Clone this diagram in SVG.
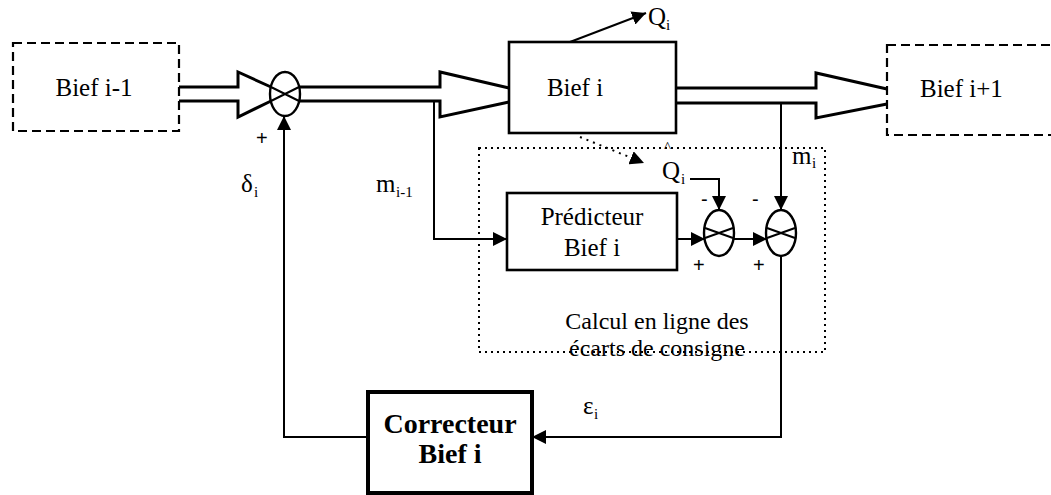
<svg xmlns="http://www.w3.org/2000/svg" width="1051" height="495" viewBox="0 0 1051 495">
<style>
.t{font-family:"Liberation Serif","Times New Roman",serif;font-size:25px;fill:#000}
.c{font-family:"Liberation Serif","Times New Roman",serif;font-size:24px;fill:#000}
.s{font-family:"Liberation Serif","Times New Roman",serif;font-size:15px;fill:#000}
.b{font-family:"Liberation Serif","Times New Roman",serif;font-size:28px;font-weight:bold;fill:#000}
.sg{font-family:"Liberation Sans",Arial,sans-serif;font-size:20px;fill:#000}
.dash{fill:#fff;stroke:#000;stroke-width:2.2;stroke-dasharray:9,5}
.box{fill:#fff;stroke:#000;stroke-width:2.6}
.sh{fill:none;stroke:#000;stroke-width:3;stroke-linejoin:miter}
.ln{fill:none;stroke:#000;stroke-width:2}
.sum{fill:#fff;stroke:#000;stroke-width:2.4}
</style>
<defs>
<marker id="ahL" viewBox="0 0 10 10" refX="10" refY="5" markerWidth="14" markerHeight="14" markerUnits="userSpaceOnUse" orient="auto">
<path d="M0,0 L10,5 L0,10 z" fill="#000"/>
</marker>
</defs>

<g id="bief-im1">
<rect class="dash" x="13" y="43" width="166" height="88"/>
<text class="t" x="94" y="96" text-anchor="middle">Bief i-1</text>
</g>

<g id="bief-i">
<rect class="box" x="509" y="42" width="167" height="91"/>
<text class="t" x="575" y="96" text-anchor="middle">Bief i</text>
</g>

<g id="bief-ip1">
<rect class="dash" x="887" y="45" width="180" height="90"/>
<text class="t" x="920" y="97">Bief i+1</text>
</g>

<g id="calcul">
<rect x="479" y="148" width="346" height="204" fill="none" stroke="#000" stroke-width="2" stroke-dasharray="2,4"/>
<text class="c" x="657" y="329" text-anchor="middle">Calcul en ligne des</text>
<text class="c" x="657" y="356" text-anchor="middle">écarts de consigne</text>
</g>

<g id="predicteur">
<rect class="box" x="507" y="193" width="170" height="77" stroke-width="3"/>
<text class="t" x="592" y="225" text-anchor="middle">Prédicteur</text>
<text class="t" x="592" y="256" text-anchor="middle">Bief i</text>
</g>

<g id="correcteur">
<rect x="368" y="392" width="164" height="101" fill="#fff" stroke="#000" stroke-width="4"/>
<text class="b" x="450" y="433" text-anchor="middle">Correcteur</text>
<text class="b" x="450" y="463" text-anchor="middle">Bief i</text>
</g>

<g id="sum1">
<ellipse class="sum" cx="285" cy="94" rx="15" ry="22"/>
<path class="ln" d="M271,87 L299,101 M271,101 L299,87"/>
</g>
<g id="sum2">
<ellipse class="sum" cx="719" cy="233" rx="15" ry="23"/>
<path class="ln" d="M705,228 L733,238 M705,238 L733,228"/>
</g>
<g id="sum3">
<ellipse class="sum" cx="781" cy="233" rx="15" ry="23"/>
<path class="ln" d="M767,228 L795,238 M767,238 L795,228"/>
</g>

<g id="connectors">
<path class="sh" d="M179,87 H238 V72 L271,87 M179,101 H238 V117 L271,101"/>
<path class="sh" d="M299,87 H440 V72 L509,88 M299,101 H440 V117 L509,102"/>
<path class="sh" d="M676,88 H816 V73 L887,89 M676,103 H816 V118 L887,104"/>
<line class="ln" x1="570" y1="42" x2="646" y2="13" marker-end="url(#ahL)"/>
<line x1="580" y1="137" x2="644" y2="163" stroke="#000" stroke-width="2" stroke-dasharray="2,5" marker-end="url(#ahL)"/>
<polyline class="ln" points="434,102 434,239 507,239" marker-end="url(#ahL)"/>
<line class="ln" x1="677" y1="239" x2="705" y2="239" marker-end="url(#ahL)"/>
<line class="ln" x1="734" y1="239" x2="767" y2="239" marker-end="url(#ahL)"/>
<polyline class="ln" points="690,179 719,179 719,210" marker-end="url(#ahL)"/>
<line class="ln" x1="781" y1="103" x2="781" y2="210" marker-end="url(#ahL)"/>
<polyline class="ln" points="781,256 781,437 532,437" marker-end="url(#ahL)"/>
<polyline class="ln" points="368,437 284,437 284,116" marker-end="url(#ahL)"/>
</g>

<g id="labels">
<text class="t" x="648" y="25">Q</text><text class="s" x="666" y="30">i</text>
<text class="sg" x="256" y="145">+</text>
<text class="t" x="241" y="192">δ</text><text class="s" x="254" y="197">i</text>
<text class="t" x="376" y="192">m</text><text class="s" x="396" y="197">i-1</text>
<text class="t" x="662" y="179">Q</text><text class="s" x="681" y="184">i</text>
<text class="s" x="664" y="152">^</text>
<text class="t" x="792" y="164">m</text><text class="s" x="812" y="168">i</text>
<text class="sg" x="701" y="206">-</text>
<text class="sg" x="752" y="206">-</text>
<text class="sg" x="693" y="272">+</text>
<text class="sg" x="753" y="272">+</text>
<text class="t" x="583" y="414">ε</text><text class="s" x="594" y="419">i</text>
</g>
</svg>
